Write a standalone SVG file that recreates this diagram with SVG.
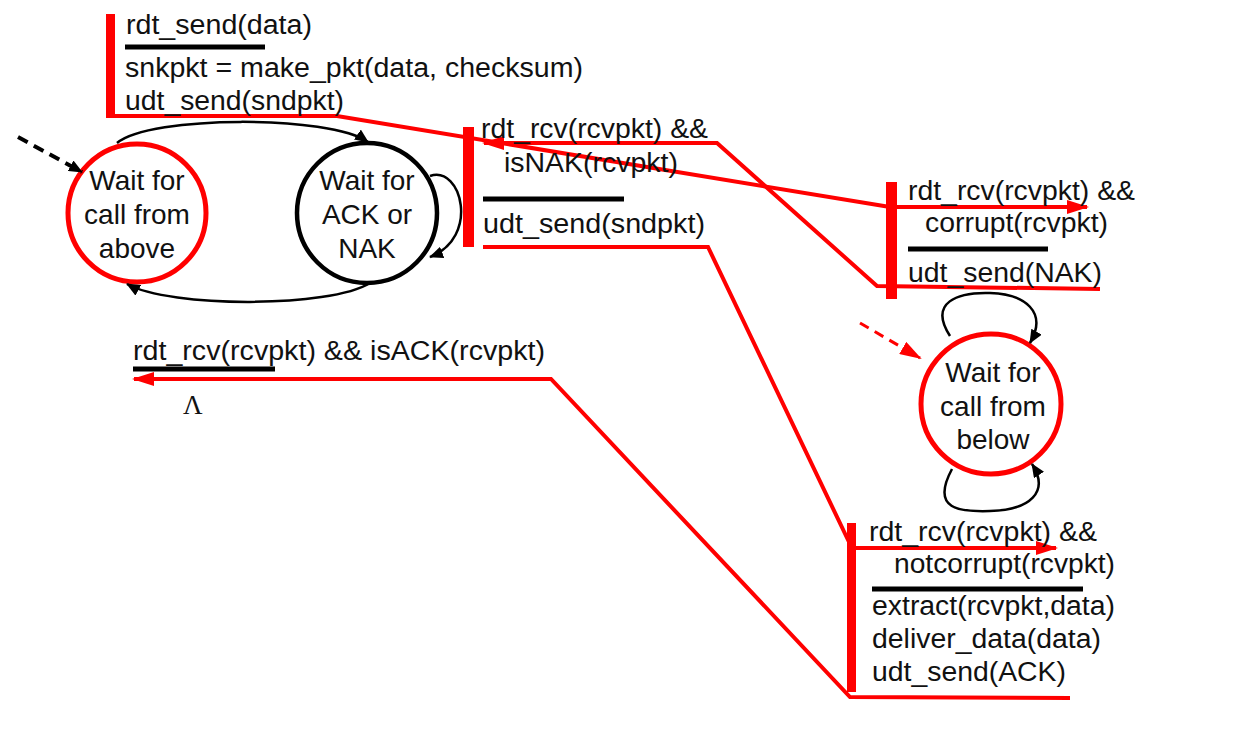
<svg xmlns="http://www.w3.org/2000/svg" width="1243" height="740" viewBox="0 0 1243 740">
  <style>
    .lbl { font-family: "Liberation Sans", Arial, sans-serif; font-size: 27px; fill: #111; }
    .st { font-family: "Liberation Sans", Arial, sans-serif; font-size: 28px; fill: #111; text-anchor: middle; }
    .lam { font-family: "Liberation Serif", "Times New Roman", serif; font-size: 27px; fill: #111; }
    .red { fill: none; stroke: #ff0000; stroke-width: 4; stroke-linejoin: miter; }
    .blk { fill: none; stroke: #000; stroke-width: 2.5; }
    .bar { fill: #ff0000; }
    .rule { stroke: #000; stroke-width: 5; }
  </style>
  <defs>
    <marker id="ahRed" markerUnits="userSpaceOnUse" markerWidth="22" markerHeight="14" refX="20" refY="7" orient="auto">
      <path d="M0,0 L22,7 L0,14 Z" fill="#ff0000"/>
    </marker>
    <marker id="ahBlk" markerUnits="userSpaceOnUse" markerWidth="14" markerHeight="12" refX="13" refY="6" orient="auto">
      <path d="M0,0 L14,6 L0,12 Z" fill="#000"/>
    </marker>
  </defs>
  <rect width="1243" height="740" fill="#fff"/>

  <!-- states -->
  <g id="state-wait-above">
    <circle cx="137" cy="213" r="69" fill="none" stroke="#ff0000" stroke-width="5"/>
    <text class="st" x="137" y="190">Wait for</text>
    <text class="st" x="137" y="224">call from</text>
    <text class="st" x="137" y="258">above</text>
  </g>
  <g id="state-wait-ack">
    <circle cx="367" cy="213" r="70" fill="none" stroke="#000" stroke-width="4.5"/>
    <text class="st" x="367" y="190">Wait for</text>
    <text class="st" x="367" y="224">ACK or</text>
    <text class="st" x="367" y="258">NAK</text>
  </g>
  <g id="state-wait-below">
    <circle cx="991" cy="404" r="70" fill="none" stroke="#ff0000" stroke-width="5"/>
    <text class="st" x="993" y="382">Wait for</text>
    <text class="st" x="993" y="416">call from</text>
    <text class="st" x="993" y="449">below</text>
  </g>

  <!-- connectors -->
  <g id="connectors">
    <!-- sender FSM arcs -->
    <path class="blk" d="M117,143 C150,115 330,115 368,142" marker-end="url(#ahBlk)"/>
    <path class="blk" d="M370,283 C330,308 170,308 127,284" marker-end="url(#ahBlk)"/>
    <path class="blk" d="M430,176 C462,165 480,238 430,257" marker-end="url(#ahBlk)"/>
    <path d="M18,137 L82,172" fill="none" stroke="#000" stroke-width="4" stroke-dasharray="11,7" marker-end="url(#ahBlk)"/>
    <!-- receiver FSM loops -->
    <path class="blk" d="M950,336 C928,302 958,292 990,293 C1025,294 1048,312 1030,343" marker-end="url(#ahBlk)"/>
    <path class="blk" d="M952,469 C930,510 960,512 990,511 C1030,510 1050,492 1032,464" marker-end="url(#ahBlk)"/>
    <path d="M860,323 L920,358" fill="none" stroke="#ff0000" stroke-width="3" stroke-dasharray="10,7" marker-end="url(#ahRed)"/>

    <!-- red trace lines -->
    <polyline class="red" points="111,116 337,116 890,207"/>
    <line class="red" x1="890" y1="207" x2="1087" y2="207" marker-end="url(#ahRed)"/>
    <polyline class="red" points="1100,289 877,286 717,143 484,143" marker-end="url(#ahRed)"/>
    <polyline class="red" points="483,247 708,247 849,542"/>
    <line class="red" x1="852" y1="548" x2="1056" y2="548" marker-end="url(#ahRed)"/>
    <polyline class="red" points="1070,698 850,697 551,379 134,379" marker-end="url(#ahRed)"/>
  </g>

  <!-- transition: rdt_send -->
  <g id="t-send">
    <rect class="bar" x="106" y="14" width="9" height="104"/>
    <text class="lbl" x="126" y="34" textLength="186" lengthAdjust="spacingAndGlyphs">rdt_send(data)</text>
    <line class="rule" x1="125" y1="47" x2="265" y2="47"/>
    <text class="lbl" x="125" y="77" textLength="458" lengthAdjust="spacingAndGlyphs">snkpkt = make_pkt(data, checksum)</text>
    <text class="lbl" x="125" y="110" textLength="219" lengthAdjust="spacingAndGlyphs">udt_send(sndpkt)</text>
  </g>

  <!-- transition: NAK received -->
  <g id="t-nak">
    <rect class="bar" x="463" y="127" width="11" height="120"/>
    <text class="lbl" x="481" y="138" textLength="227" lengthAdjust="spacingAndGlyphs">rdt_rcv(rcvpkt) &amp;&amp;</text>
    <text class="lbl" x="504" y="172" textLength="174" lengthAdjust="spacingAndGlyphs">isNAK(rcvpkt)</text>
    <line class="rule" x1="483" y1="199" x2="624" y2="199"/>
    <text class="lbl" x="483" y="233" textLength="222" lengthAdjust="spacingAndGlyphs">udt_send(sndpkt)</text>
  </g>

  <!-- transition: corrupt packet -->
  <g id="t-corrupt">
    <rect class="bar" x="886" y="182" width="11" height="117"/>
    <text class="lbl" x="908" y="200" textLength="227" lengthAdjust="spacingAndGlyphs">rdt_rcv(rcvpkt) &amp;&amp;</text>
    <text class="lbl" x="925" y="232" textLength="183" lengthAdjust="spacingAndGlyphs">corrupt(rcvpkt)</text>
    <line class="rule" x1="908" y1="249" x2="1048" y2="249"/>
    <text class="lbl" x="908" y="282" textLength="194" lengthAdjust="spacingAndGlyphs">udt_send(NAK)</text>
  </g>

  <!-- transition: ACK received -->
  <g id="t-ack">
    <text class="lbl" x="133" y="360" textLength="412" lengthAdjust="spacingAndGlyphs">rdt_rcv(rcvpkt) &amp;&amp; isACK(rcvpkt)</text>
    <line class="rule" x1="133" y1="369" x2="275" y2="369"/>
    <text class="lam" x="183" y="414">Λ</text>
  </g>

  <!-- transition: good packet -->
  <g id="t-notcorrupt">
    <rect class="bar" x="847" y="523" width="9" height="169"/>
    <text class="lbl" x="869" y="541" textLength="228" lengthAdjust="spacingAndGlyphs">rdt_rcv(rcvpkt) &amp;&amp;</text>
    <text class="lbl" x="894" y="573" textLength="221" lengthAdjust="spacingAndGlyphs">notcorrupt(rcvpkt)</text>
    <line class="rule" x1="872" y1="589" x2="1083" y2="589"/>
    <text class="lbl" x="872" y="615" textLength="243" lengthAdjust="spacingAndGlyphs">extract(rcvpkt,data)</text>
    <text class="lbl" x="872" y="648" textLength="229" lengthAdjust="spacingAndGlyphs">deliver_data(data)</text>
    <text class="lbl" x="872" y="681" textLength="194" lengthAdjust="spacingAndGlyphs">udt_send(ACK)</text>
  </g>
</svg>
